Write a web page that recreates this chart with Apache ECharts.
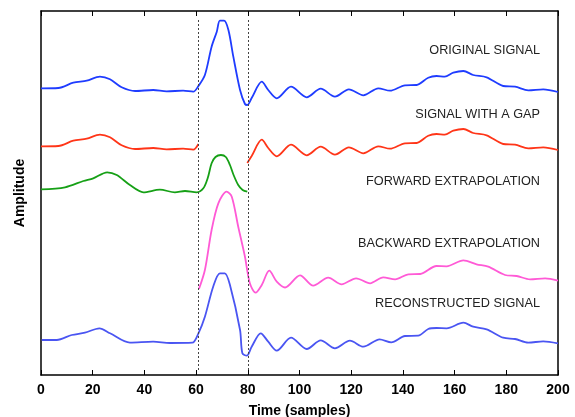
<!DOCTYPE html>
<html>
<head>
<meta charset="utf-8">
<script src="https://cdn.jsdelivr.net/npm/echarts@6/dist/echarts.min.js"></script>
<style>
  html, body { margin: 0; padding: 0; background: #fff; }
  #chart { width: 575px; height: 417px; }
</style>
</head>
<body>
<div id="chart"></div>
<script>
// samples: [time, displayed amplitude] (traces already offset)
var originalSignal = [
  [0, 286.7], [6.7, 287], [12.5, 292.3], [17.7, 294.3], [22.8, 298.3], [26.7, 295.7],
  [31.2, 287.7], [36.4, 284], [43.4, 285], [48.6, 283.7], [55, 284.3], [58.9, 283.3],
  [60.9, 289], [63.4, 300], [66, 328.3], [68, 343.3], [69.2, 354.3], [70.8, 354.3],
  [72.5, 345], [74.4, 318.3], [77, 285], [78.9, 271], [79.8, 270], [81.5, 277],
  [85.4, 293.3], [87.9, 285], [91.2, 276.7], [96.7, 288.3], [102.8, 277.7], [108.2, 286.3],
  [113.7, 278.3], [119.1, 285.7], [124.7, 279.7], [130.5, 286.7], [135, 284.3], [140.8, 289.7],
  [145.3, 290], [149.8, 297.3], [153, 299], [156.2, 298.3], [159.5, 302.3], [163.4, 304],
  [167.2, 300], [172.4, 297.7], [178.8, 289], [183.4, 288.3], [188.5, 284.7], [194.3, 285.7],
  [200, 283]
];
var gapSignal = [
  [0, 228.7], [6.7, 229], [12.5, 234.3], [17.7, 236.3], [22.8, 240.3], [26.7, 237.7],
  [31.2, 229.7], [36.4, 226], [43.4, 227], [48.6, 225.7], [55, 226.3], [58.9, 225.3],
  [60.9, 231], [70, null],
  [79.8, 212], [81.5, 219], [85.4, 235.3], [87.9, 227], [91.2, 218.7], [96.7, 230.3],
  [102.8, 219.7], [108.2, 228.3], [113.7, 220.3], [119.1, 227.7], [124.7, 221.7], [130.5, 228.7],
  [135, 226.3], [140.8, 231.7], [145.3, 232], [149.8, 239.3], [153, 241], [156.2, 240.3],
  [159.5, 244.3], [163.4, 246], [167.2, 242], [172.4, 239.7], [178.8, 231], [183.4, 230.3],
  [188.5, 226.7], [194.3, 227.7], [200, 225]
];
var forwardExtrap = [
  [0, 185.7], [9.3, 187.7], [16.4, 194], [20.2, 196.7], [25.6, 202.7], [29.3, 200],
  [34.4, 190], [39.6, 182.7], [46, 185.3], [51.8, 182.7], [55.7, 184], [60.2, 182.7],
  [62.8, 186.7], [64.5, 197], [66, 211.7], [67.5, 218], [69.6, 220], [71.5, 218],
  [73.1, 210], [74.5, 200], [76.3, 190], [78, 185], [79.8, 183.3]
];
var backwardExtrap = [
  [61.1, 86], [63.4, 105], [66, 145], [68.6, 171.7], [71.8, 183.3], [73.8, 178.3],
  [76.3, 148.3], [78.9, 118.3], [80.8, 91.7], [83, 82.3], [85.4, 90], [88.3, 104.3],
  [91.2, 93.3], [94.4, 87.5], [100.2, 99.7], [105.3, 89.3], [111.1, 97.3], [116.3, 90.7],
  [121.9, 96.7], [127.3, 91.7], [132.4, 97.7], [137, 95.7], [142.1, 100.7], [146.7, 101],
  [153, 109], [156.9, 108.7], [163.4, 114.7], [168.5, 110.7], [173, 108.3], [179.5, 100],
  [184, 99], [189.2, 95.7], [195, 96.7], [200, 94.3]
];
var reconstructed = [
  [0.3, 35], [6.1, 35], [11.9, 40], [17, 42.3], [22.6, 46.7], [26.7, 41.7],
  [34.4, 32.3], [43.4, 33.3], [49.9, 32], [58.5, 32.3], [60.9, 41.7], [63.4, 58.3],
  [66.6, 88.3], [69.2, 101.7], [71.1, 101.7], [73.1, 90], [77, 45], [77.9, 21.7],
  [79.6, 19.3], [81.5, 28.3], [85, 41.7], [87.9, 33.3], [91.2, 24.3], [96.7, 37.3],
  [102.8, 26], [108.2, 34.7], [113.7, 26.7], [119.5, 34.3], [124.7, 28.3], [131, 35.7],
  [135.5, 32.7], [140.8, 39], [145.9, 39.3], [149.8, 46], [153, 47], [156.9, 46.7],
  [163.4, 52.3], [167.2, 48.3], [172.4, 45.7], [178.8, 37.3], [183.4, 36], [188.5, 32.3],
  [194.3, 33.7], [200, 31.7]
];
var gapEdges = [61, 80];
var traceNames = ['ORIGINAL SIGNAL', 'SIGNAL WITH A GAP', 'FORWARD EXTRAPOLATION',
  'BACKWARD EXTRAPOLATION', 'RECONSTRUCTED SIGNAL'];

var chart = echarts.init(document.getElementById('chart'));

function trace(name, data, color) {
  return {
    name: name,
    type: 'line',
    data: data,
    smooth: 0.3,
    showSymbol: false,
    connectNulls: false,
    lineStyle: { color: color, width: 1.8 },
    itemStyle: { color: color },
    z: 3
  };
}

var series = [
  trace(traceNames[0], originalSignal, '#1f3cff'),
  trace(traceNames[1], gapSignal, '#ff3518'),
  trace(traceNames[2], forwardExtrap, '#16a016'),
  trace(traceNames[3], backwardExtrap, '#ff5ad6'),
  trace(traceNames[4], reconstructed, '#4a55f2')
];
// dashed gap limits
series[0].markLine = {
  symbol: ['none', 'none'],
  silent: true,
  label: { show: false },
  lineStyle: { color: '#444', width: 1, type: [2, 2] },
  data: gapEdges.map(function (x) { return [{ coord: [x, 5] }, { coord: [x, 355] }]; })
};

// label positions (pixel centre heights)
var labelY = [51, 115, 182, 244, 304];
var graphic = traceNames.map(function (t, i) {
  return {
    type: 'text',
    right: 35,
    top: labelY[i] - 7,
    style: { text: t, font: '12.7px "Liberation Sans", Arial, sans-serif', fill: '#222' }
  };
});

var boldText = { fontFamily: 'Liberation Sans', fontWeight: 'bold', fontSize: 14, color: '#000' };
var frameLine = { show: true, onZero: false, lineStyle: { color: '#000', width: 1.5 } };
var xTicks = { inside: true, length: 5, lineStyle: { color: '#000' } };

chart.setOption({
  animation: false,
  grid: { left: 41, right: 17, top: 11, bottom: 42, containLabel: false, outerBoundsMode: 'none' },
  xAxis: [{
    type: 'value', min: 0, max: 200, interval: 20,
    name: 'Time (samples)', nameLocation: 'middle', nameGap: 29,
    nameTextStyle: boldText,
    axisLine: frameLine,
    axisTick: xTicks,
    axisLabel: Object.assign({ margin: 8 }, boldText),
    splitLine: { show: false }
  }, {
    type: 'value', min: 0, max: 200, interval: 20, position: 'top',
    axisLine: frameLine,
    axisTick: xTicks,
    axisLabel: { show: false },
    splitLine: { show: false }
  }],
  yAxis: [{
    type: 'value', min: 0, max: 364,
    name: 'Amplitude', nameLocation: 'middle', nameGap: 14,
    nameTextStyle: boldText,
    axisLine: frameLine,
    axisTick: { show: false },
    axisLabel: { show: false },
    splitLine: { show: false }
  }, {
    type: 'value', min: 0, max: 364, position: 'right',
    axisLine: frameLine,
    axisTick: { show: false },
    axisLabel: { show: false },
    splitLine: { show: false }
  }],
  graphic: graphic,
  series: series
});
</script>
</body>
</html>
